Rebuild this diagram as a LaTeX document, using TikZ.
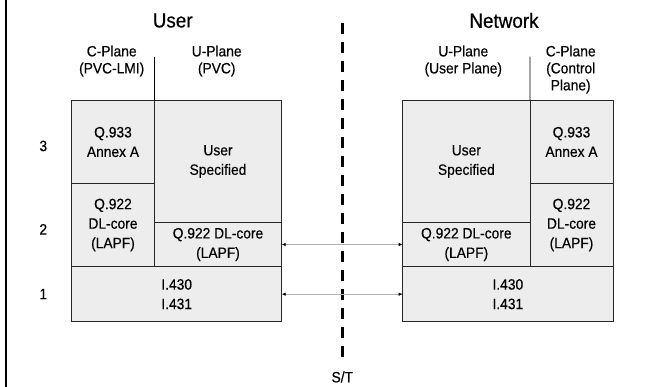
\documentclass[tikz,border=0pt]{standalone}
\usepackage{fontspec}
\setmainfont{Liberation Sans}[FakeStretch=0.92, FakeBold=0.4]
\usetikzlibrary{arrows.meta,positioning}

\begin{document}
\begin{tikzpicture}[
  x=1pt, y=-1pt,
  cell/.style={draw=black!85, fill=black!7, line width=0.8pt, align=center,
              inner sep=0pt, outer sep=0pt, anchor=north west,
              font=\fontsize{15}{19.5}\selectfont},
  hdr/.style={align=center, inner sep=0pt, font=\fontsize{15}{17}\selectfont},
  ttl/.style={inner sep=0pt, font=\fontsize{20.5}{24}\selectfont},
  lyr/.style={inner sep=0pt, font=\fontsize{15}{17}\selectfont},
  ar/.style={{Latex[length=4pt,width=3.5pt,color=black]}-{Latex[length=4pt,width=3.5pt,color=black]},
             draw=black!30, line width=0.8pt},
  divl/.style={draw=black, line width=0.8pt},
  stline/.style={draw=black, line width=3pt, dash pattern=on 11pt off 8pt}
]
\useasboundingbox (0,0) rectangle (663,387);
\draw[line width=2pt] (6,0) -- (6,387);

% titles and plane headers
\node[ttl] (usr) at (172.7,20.5) {User};
\node[ttl] (net) at (504,20.5) {Network};
\node[hdr] (uch) at (111.7,61) {C-Plane\\(PVC-LMI)};
\node[hdr] (uuh) at (216.7,61) {U-Plane\\(PVC)};
\node[hdr] (nuh) at (463.3,61) {U-Plane\\(User Plane)};
\node[hdr] (nch) at (570.7,69.5) {C-Plane\\(Control\\Plane)};

% layer numbers
\node[lyr] (l3) at (43.3,146) {3};
\node[lyr] (l2) at (43.3,229.3) {2};
\node[lyr] (l1) at (43.3,294) {1};

% user side stack
\node[cell, minimum width=82.6pt, minimum height=82.6pt] (uq933) at (71.7,100.7) {Q.933\\Annex A};
\node[cell, minimum width=82.6pt, minimum height=83.4pt] (uq922c) at (uq933.south west) {Q.922\\DL-core\\(LAPF)};
\node[cell, minimum width=127.4pt, minimum height=121.6pt] (uuser) at (uq933.north east) {User\\Specified};
\node[cell, minimum width=127.4pt, minimum height=44.4pt] (uq922u) at (uuser.south west) {Q.922 DL-core\\(LAPF)};
\node[cell, minimum width=210pt, minimum height=55pt] (ui430) at (uq922c.south west) {I.430\\I.431};

% network side stack
\node[cell, minimum width=127.3pt, minimum height=121.6pt] (nuser) at (402.7,100.7) {User\\Specified};
\node[cell, minimum width=127.3pt, minimum height=44.4pt] (nq922u) at (nuser.south west) {Q.922 DL-core\\(LAPF)};
\node[cell, minimum width=83pt, minimum height=82.6pt] (nq933) at (nuser.north east) {Q.933\\Annex A};
\node[cell, minimum width=83pt, minimum height=83.4pt] (nq922c) at (nq933.south west) {Q.922\\DL-core\\(LAPF)};
\node[cell, minimum width=210.3pt, minimum height=55pt] (ni430) at (nq922u.south west) {I.430\\I.431};

% plane dividers
\coordinate (udiv) at (154.3,56.7);
\coordinate (ndiv) at (530,56.7);
\draw[divl] (udiv) -- (uuser.north west);
\draw[divl] (ndiv) -- (nq933.north west);

% S/T reference point
\node[lyr] (st) at (342.3,377) {S/T};
\coordinate (sttop) at (342.3,23.3);
\draw[stline, shorten >=12pt] (sttop) -- (st.north);

\draw[ar] (uq922u.east) -- (nq922u.west);
\draw[ar] (ui430.east) -- (ni430.west);
\end{tikzpicture}
\end{document}
